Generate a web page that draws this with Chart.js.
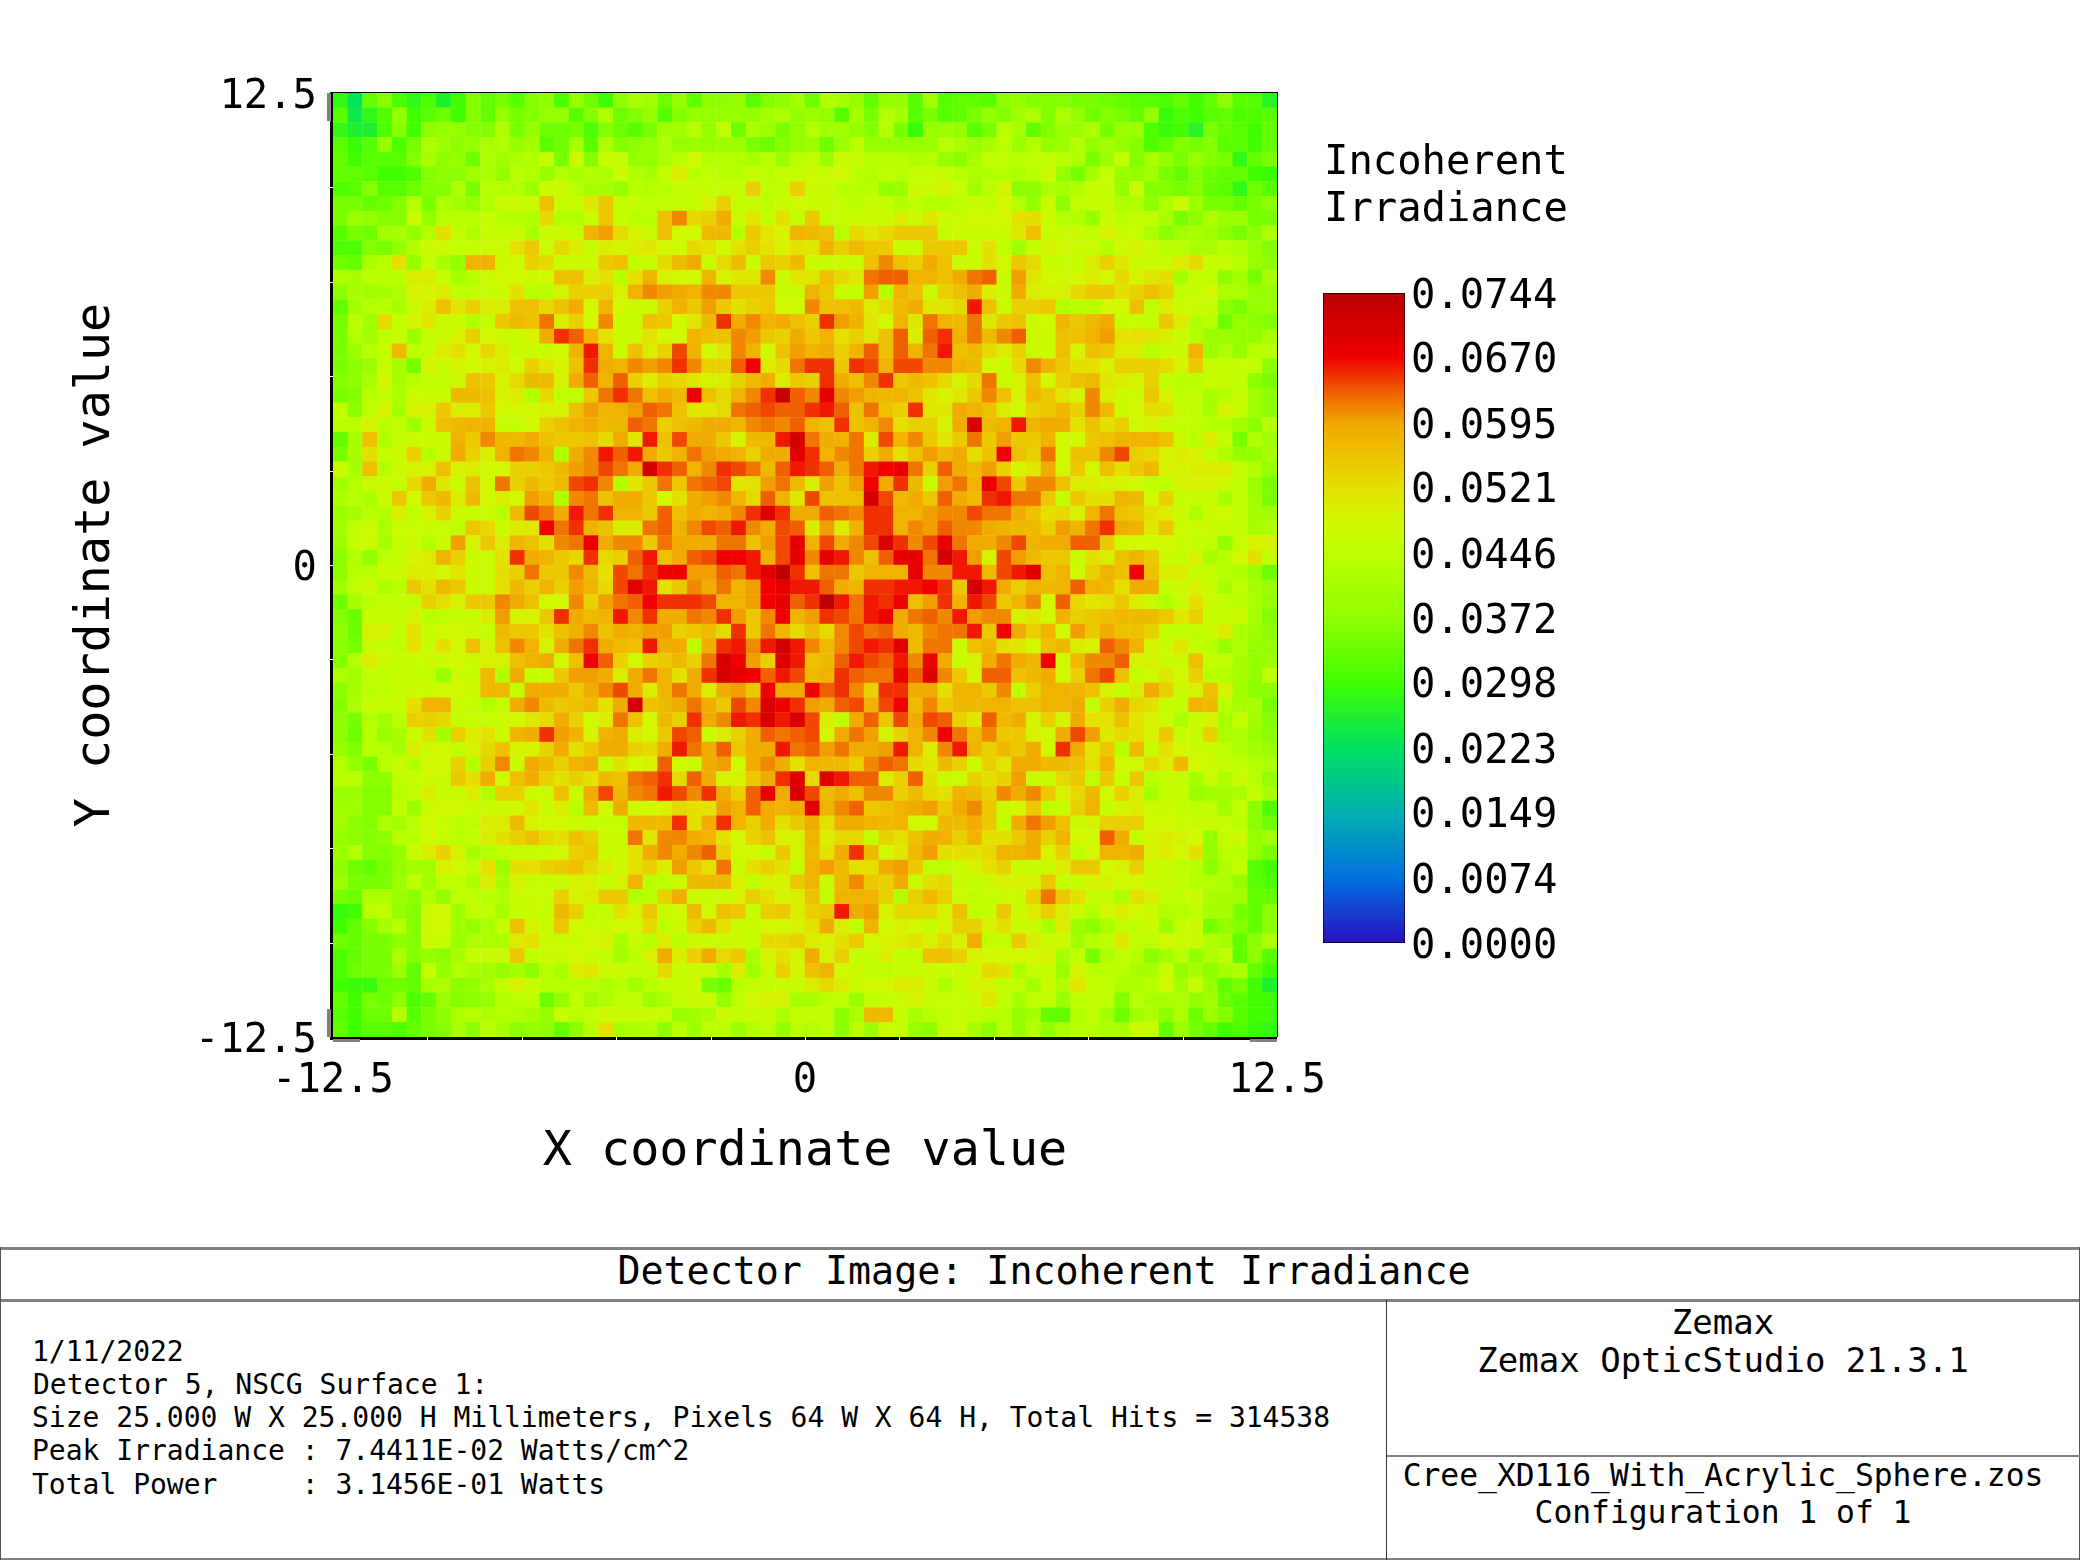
<!DOCTYPE html>
<html><head><meta charset="utf-8">
<script src="https://cdn.jsdelivr.net/npm/chart.js@4"></script>
<style>
html,body{margin:0;padding:0;background:#fff;width:2080px;height:1560px;overflow:hidden}
canvas{position:absolute;display:block}
.t{position:absolute;font-family:"DejaVu Sans Mono",monospace;color:#000;white-space:pre;line-height:1}
.c{transform:translate(-50%,-50%)}
.l{transform:translateY(-50%)}
.ln{position:absolute;background:#808080}
</style></head><body>
<canvas id="map" width="1400" height="1240" style="left:0;top:0"></canvas>
<canvas id="bar" width="400" height="740" style="left:1300px;top:250px"></canvas>
<div class="t l" style="left:1324px;top:160px;font-size:40.5px">Incoherent</div>
<div class="t l" style="left:1324px;top:207px;font-size:40.5px">Irradiance</div>
<div class="ln" style="left:0;top:1247px;width:2080px;height:3px"></div>
<div class="ln" style="left:0;top:1299px;width:2080px;height:3px"></div>
<div class="ln" style="left:0;top:1558px;width:2080px;height:2px"></div>
<div class="ln" style="left:0;top:1247px;width:1px;height:313px;background:#555"></div>
<div class="ln" style="left:2079px;top:1247px;width:1px;height:313px;background:#555"></div>
<div class="ln" style="left:1386px;top:1300px;width:1px;height:260px;background:#333"></div>
<div class="ln" style="left:1387px;top:1455px;width:693px;height:2px"></div>
<div class="t c" style="left:1044px;top:1271px;font-size:38.3px">Detector Image: Incoherent Irradiance</div>
<div class="t l" style="left:32px;top:1352px;font-size:28px">1/11/2022</div>
<div class="t l" style="left:33px;top:1385px;font-size:28px">Detector 5, NSCG Surface 1:</div>
<div class="t l" style="left:32px;top:1418px;font-size:28px">Size 25.000 W X 25.000 H Millimeters, Pixels 64 W X 64 H, Total Hits = 314538</div>
<div class="t l" style="left:32px;top:1451px;font-size:28px">Peak Irradiance : 7.4411E-02 Watts/cm^2</div>
<div class="t l" style="left:32px;top:1485px;font-size:28px">Total Power     : 3.1456E-01 Watts</div>
<div class="t c" style="left:1723px;top:1322px;font-size:34px">Zemax</div>
<div class="t c" style="left:1723px;top:1360px;font-size:34px">Zemax OpticStudio 21.3.1</div>
<div class="t c" style="left:1723px;top:1476px;font-size:31.3px">Cree_XD116_With_Acrylic_Sphere.zos</div>
<div class="t c" style="left:1723px;top:1513px;font-size:31.3px">Configuration 1 of 1</div>
<script>
// Cell irradiance, in units of 0.001 W/cm^2, top row first.
const row00=[28,23,33,36,31,28,31,26,30,36,33,35,32,36,37,31,38,34,30,37,41,40,34,38,33,37,37,38,32,36,37,40, 34,43,41,38,33,38,38,32,40,32,33,33,32,37,38,36,36,36,35,35,34,33,32,32,31,33,30,33,37,32,32,27];
const row01=[32,24,28,31,38,30,32,34,30,36,33,38,35,36,38,38,32,36,42,34,36,38,32,36,38,38,38,38,38,41,42,38, 39,38,32,41,35,43,41,32,35,32,33,35,38,36,40,42,36,42,38,34,36,35,33,38,29,31,30,32,33,31,31,32];
const row02=[28,26,26,31,36,30,37,38,38,36,36,42,35,38,34,34,35,31,36,34,32,35,40,40,44,38,45,34,42,39,35,38, 43,40,40,38,36,44,35,29,38,39,38,32,35,44,41,33,36,39,39,42,35,39,39,31,29,30,27,35,33,32,30,33];
const row03=[32,29,32,38,31,35,42,40,37,38,41,43,38,40,32,34,41,32,42,36,37,38,42,38,39,38,39,39,35,34,36,38, 39,34,39,44,38,38,38,38,39,44,42,39,41,44,39,43,38,39,43,38,40,38,36,31,33,36,35,36,32,32,30,33];
const row04=[33,30,32,32,32,36,41,37,38,34,42,40,42,43,46,35,47,36,46,46,38,38,42,44,48,43,43,43,41,44,39,44, 45,39,47,46,44,44,44,42,43,38,37,41,45,45,44,45,45,44,42,35,39,46,36,41,38,35,38,36,35,28,33,35];
const row05=[33,33,32,30,30,31,36,37,37,40,41,38,44,43,38,43,41,43,42,47,43,41,46,50,44,46,44,44,46,44,46,46, 47,47,48,44,43,45,44,46,46,46,44,42,43,43,42,44,47,38,35,41,46,38,38,40,35,33,36,34,33,33,30,29];
const row06=[31,32,36,32,32,34,36,36,42,35,44,43,43,39,47,47,44,41,41,38,44,43,44,45,46,46,46,46,54,45,45,54, 47,47,44,44,44,38,39,47,47,49,46,40,44,49,37,37,42,41,43,46,46,38,46,36,36,35,36,33,32,28,34,32];
const row07=[35,35,33,34,36,43,35,42,40,38,43,47,47,47,56,46,46,51,55,46,46,45,45,45,46,49,54,46,46,45,47,48, 47,47,46,44,46,46,43,45,43,43,45,47,45,48,43,38,47,37,45,46,47,42,42,37,42,47,39,35,35,33,35,37];
const row08=[35,39,38,36,36,47,38,44,44,44,46,44,43,43,53,43,43,46,55,46,44,44,56,61,53,54,59,47,51,46,52,46, 55,46,46,47,47,47,50,47,51,47,47,48,48,48,52,52,47,43,43,38,47,44,45,45,41,35,37,42,39,39,35,35];
const row09=[32,35,34,40,41,38,43,52,46,42,46,46,47,41,47,47,46,58,60,53,49,47,56,48,48,57,57,43,55,51,49,58, 57,56,44,53,51,53,55,55,55,46,47,47,47,47,51,56,46,47,47,45,49,47,46,42,37,40,41,40,37,35,37,42];
const row10=[31,31,36,35,38,43,47,47,46,46,47,47,52,55,47,53,50,46,50,49,50,51,48,48,53,52,48,52,54,52,49,52, 51,58,54,57,55,55,47,47,55,55,55,47,52,45,40,46,49,48,47,47,43,47,49,47,44,44,41,41,44,42,38,36];
const row11=[34,33,41,44,52,38,47,41,38,58,58,47,48,54,53,47,47,47,55,56,46,46,53,57,59,46,53,57,47,55,54,57, 47,47,47,47,56,61,56,54,59,56,47,47,52,48,55,53,46,46,46,50,54,51,47,47,47,50,53,46,46,44,38,37];
const row12=[42,41,44,44,44,50,50,46,41,44,47,48,48,47,48,56,56,50,52,44,52,58,49,48,48,58,49,51,51,61,47,51, 51,56,53,51,62,63,63,58,58,56,59,62,63,46,60,51,48,48,48,50,48,53,49,51,52,41,46,45,37,41,35,41];
const row13=[37,41,40,41,42,49,49,50,45,45,46,47,52,44,44,49,54,54,54,49,58,61,60,59,58,61,61,55,55,55,47,47, 58,55,47,46,60,44,58,56,47,54,56,59,50,47,59,50,49,49,53,55,55,52,54,56,54,45,46,48,42,42,38,38];
const row14=[33,40,43,44,41,47,50,56,51,54,50,50,56,56,53,56,59,48,58,48,47,47,54,58,55,60,55,52,54,55,48,48, 61,56,56,57,50,53,57,59,51,51,53,66,56,47,54,54,55,43,44,44,48,48,56,45,50,47,47,46,37,35,38,38];
const row15=[35,44,40,53,46,49,51,47,47,43,46,55,57,56,62,50,54,48,61,47,47,56,55,48,51,57,65,59,61,58,59,56, 54,65,60,58,51,48,58,51,62,58,57,62,51,55,56,47,48,58,55,57,59,46,46,46,55,50,43,44,34,38,37,36];
const row16=[35,43,40,45,46,39,46,47,49,54,48,47,47,49,59,65,63,58,52,47,47,52,48,48,58,56,56,61,60,55,54,59, 55,58,52,54,51,56,63,50,63,65,58,62,57,61,63,47,47,56,56,58,60,52,52,51,50,47,43,39,39,38,38,41];
const row17=[35,39,44,46,57,45,46,50,52,48,53,50,47,47,47,48,58,66,58,47,56,50,54,64,58,48,51,61,58,48,56,60, 58,59,54,58,63,56,63,58,62,66,56,57,53,50,54,47,47,56,49,56,55,50,50,44,47,47,58,39,42,38,44,44];
const row18=[35,37,39,46,41,35,49,47,49,48,49,50,48,54,51,49,56,65,59,58,61,60,61,65,61,54,54,63,67,50,53,62, 65,65,55,65,64,58,64,64,61,61,58,57,48,47,53,61,58,55,52,52,49,54,54,54,53,49,55,46,46,46,46,37];
const row19=[36,37,41,49,41,44,45,46,47,56,55,49,53,57,57,49,59,63,58,63,54,50,54,53,51,49,50,54,57,59,50,55, 54,65,59,56,61,65,55,57,56,53,49,53,62,47,49,56,48,54,56,57,51,50,49,54,45,44,44,46,46,45,37,35];
const row20=[35,36,44,45,42,47,47,47,57,57,56,49,50,43,53,45,45,55,62,65,62,56,59,57,67,56,53,58,61,65,72,63, 61,68,61,60,58,57,58,56,51,49,51,55,61,56,49,57,55,51,49,61,50,47,47,55,49,45,45,41,43,46,40,37];
const row21=[45,37,45,49,41,49,49,55,50,50,55,48,48,48,49,49,56,60,58,58,60,63,62,56,51,51,53,62,63,64,63,63, 65,66,63,56,62,56,54,65,51,51,59,58,56,50,48,54,55,57,54,61,57,47,48,52,52,46,45,41,49,46,40,37];
const row22=[44,44,49,44,45,40,47,56,57,58,58,46,46,48,54,56,58,59,57,57,63,62,54,56,57,59,59,57,61,62,61,63, 58,56,65,56,58,61,52,54,54,49,59,70,57,58,66,58,59,59,52,56,52,54,48,49,47,46,45,44,43,40,37,43];
const row23=[33,41,56,43,46,47,47,47,58,55,61,57,57,59,56,55,55,56,53,59,51,66,56,64,59,59,55,49,57,57,66,71, 62,59,58,62,50,64,58,61,55,51,55,62,55,60,55,55,58,48,48,55,56,58,58,58,56,47,44,50,45,35,43,40];
const row24=[35,41,52,46,47,54,43,47,59,54,50,58,62,61,58,43,59,61,66,63,66,59,55,58,62,60,59,58,54,59,59,69, 65,58,61,62,54,59,52,56,60,57,59,52,56,67,56,54,62,48,56,56,61,64,54,53,49,50,49,46,42,38,38,41];
const row25=[47,41,56,43,47,49,49,56,49,50,48,48,54,54,55,57,60,61,64,62,59,71,65,63,58,61,65,64,62,57,63,66, 65,63,59,62,66,67,68,62,54,63,59,57,60,54,49,51,59,48,55,48,56,52,55,57,49,49,50,50,50,46,43,38];
const row26=[40,43,47,47,46,53,59,51,47,56,48,62,54,57,55,57,64,65,61,43,51,55,62,55,62,63,64,51,52,60,62,57, 50,60,56,60,67,59,65,57,47,60,62,58,68,64,55,61,61,56,50,50,49,49,48,45,45,49,49,49,47,45,39,35];
const row27=[42,44,42,47,55,48,55,57,50,57,48,50,48,60,58,43,61,62,56,59,59,55,48,52,59,60,61,58,53,63,58,51, 64,56,56,56,71,64,57,59,55,63,59,57,65,66,62,62,55,46,55,52,52,58,57,48,54,46,46,46,41,45,40,35];
const row28=[39,41,44,43,50,45,49,54,47,47,47,44,57,64,62,59,66,62,65,58,58,55,63,56,59,58,59,61,65,69,65,59, 59,63,62,61,65,65,58,58,60,61,61,64,62,62,59,56,52,53,49,58,62,56,55,52,50,47,42,47,48,45,41,40];
const row29=[40,45,47,41,47,47,47,46,45,55,53,47,50,51,67,62,65,58,56,50,50,62,63,58,61,64,63,66,61,59,64,63, 50,60,50,58,65,65,58,61,60,63,61,61,59,58,57,57,54,60,58,62,65,59,58,51,55,47,47,47,46,45,41,42];
const row30=[39,46,47,41,46,47,43,47,60,49,55,50,58,56,52,61,62,68,59,61,61,55,62,59,59,59,62,62,56,60,64,68, 58,64,59,61,64,70,65,61,64,68,62,59,59,61,64,58,59,59,63,63,55,48,48,48,48,47,46,45,38,46,49,49];
const row31=[37,43,38,45,46,49,50,58,54,47,47,52,65,59,58,55,53,65,53,54,63,66,56,59,63,64,67,67,66,58,64,68, 61,68,66,61,56,63,68,68,62,71,66,60,49,64,60,57,55,55,47,52,50,56,58,55,47,46,49,41,44,48,52,46];
const row32=[37,44,44,47,47,50,50,48,51,47,47,52,54,62,55,55,61,57,52,64,62,65,67,67,60,60,63,62,66,69,73,65, 56,62,62,55,58,58,58,68,61,61,66,66,57,64,66,69,56,58,48,54,58,56,67,56,50,50,46,46,44,42,39,34];
const row33=[40,45,47,42,44,55,52,57,55,47,47,52,57,54,58,54,60,58,53,64,69,66,52,55,61,59,62,58,60,67,68,66, 66,63,59,58,65,65,66,66,67,65,55,71,66,59,54,58,57,58,63,58,57,52,59,59,46,47,49,47,41,45,41,39];
const row34=[34,41,44,45,45,45,54,52,49,55,55,61,59,56,48,48,61,54,60,62,63,67,65,65,65,64,58,58,60,67,68,63, 65,74,66,62,66,65,67,56,60,65,58,66,64,55,58,61,48,63,53,51,52,55,50,47,43,46,52,47,45,44,42,38];
const row35=[36,34,46,46,46,49,44,45,46,46,50,60,49,49,55,65,59,57,58,66,61,65,59,59,62,61,65,60,55,61,67,58, 60,65,64,62,66,67,59,62,63,61,66,60,61,61,49,51,48,58,54,55,56,57,57,57,55,51,54,46,46,47,41,36];
const row36=[37,34,49,49,45,52,46,48,48,47,46,57,55,55,52,56,58,61,56,59,58,60,60,54,55,57,53,65,55,62,58,53, 57,53,61,64,62,63,59,57,61,62,62,66,55,67,59,54,58,48,60,55,59,56,56,54,46,45,45,47,50,41,40,37];
const row37=[37,35,46,46,45,52,46,52,48,56,49,56,61,58,49,59,62,65,59,57,56,66,59,59,45,59,65,66,61,66,71,66, 61,57,61,64,66,65,69,57,62,62,47,56,58,52,51,48,56,57,50,49,63,61,58,49,47,51,46,44,39,42,38,38];
const row38=[36,43,50,47,46,46,47,47,48,47,49,49,56,58,59,48,56,67,63,54,48,54,55,57,54,62,70,67,60,54,69,66, 56,57,63,66,64,63,66,61,67,59,47,49,59,62,59,57,67,48,57,61,61,63,49,49,47,47,56,46,45,41,38,39];
const row39=[42,40,45,45,46,46,45,39,47,47,57,43,59,46,47,55,60,60,59,50,59,62,58,52,59,65,70,68,67,63,66,64, 57,58,65,63,62,62,68,63,69,61,55,49,63,63,56,57,59,48,54,62,64,56,46,48,51,48,54,44,43,41,38,45];
const row40=[37,41,44,45,46,47,47,48,48,47,57,57,46,59,59,59,55,59,61,64,59,50,58,62,59,50,59,60,55,67,59,59, 67,63,65,61,54,65,65,59,59,52,58,58,55,61,45,54,58,58,58,56,49,46,50,59,54,47,49,56,49,40,37,37];
const row41=[36,42,46,46,46,52,58,58,47,47,43,46,59,61,57,55,56,57,52,59,71,56,57,59,62,59,55,64,61,70,67,65, 60,59,63,64,58,64,67,57,61,55,57,57,58,58,56,56,58,58,59,45,54,59,53,52,46,46,58,57,44,41,41,35];
const row42=[37,35,43,40,44,54,54,53,45,46,46,47,48,51,53,59,54,48,50,62,56,48,57,54,65,59,61,66,65,70,66,70, 64,50,45,59,63,55,64,59,64,63,54,51,63,57,59,49,54,49,59,52,52,56,52,49,47,41,46,49,41,46,40,36];
const row43=[37,34,44,39,41,47,52,41,54,50,52,47,58,59,65,60,58,49,58,59,50,48,55,64,63,47,50,54,59,63,62,63, 64,48,59,62,60,49,54,58,61,67,62,57,61,55,55,49,48,59,64,60,51,53,52,49,55,46,47,54,42,42,39,37];
const row44=[38,36,44,44,41,50,47,48,45,49,53,56,49,49,54,59,52,55,59,59,54,53,59,66,62,59,63,55,59,59,66,62, 63,60,62,59,59,60,66,58,50,61,66,58,54,57,55,59,48,65,59,51,55,44,57,47,52,48,47,47,45,42,41,39];
const row45=[43,38,35,44,46,43,48,48,54,43,54,61,47,59,57,54,58,59,46,52,48,49,63,48,47,59,60,48,59,61,59,52, 58,57,57,54,61,63,62,53,51,57,54,47,54,51,59,59,57,57,56,52,58,48,48,53,50,57,48,47,46,45,43,42];
const row46=[44,44,37,37,45,46,47,47,55,52,59,48,56,59,54,52,54,52,57,56,62,63,65,53,63,59,49,49,55,59,65,69, 53,69,66,63,63,50,54,63,52,47,47,54,52,54,60,47,47,53,55,45,55,46,55,44,46,46,41,47,42,47,44,38];
const row47=[39,39,36,36,44,45,50,46,47,50,43,54,54,47,47,56,47,59,64,57,61,62,66,64,61,65,59,54,63,68,59,70, 64,57,59,56,61,61,54,57,53,52,58,57,54,61,59,61,55,49,53,57,48,54,50,41,46,46,39,40,41,42,46,41];
const row48=[40,40,36,36,45,39,47,48,48,47,47,47,48,51,47,50,44,57,48,59,47,48,49,53,52,52,60,58,63,59,58,59, 69,58,61,63,55,56,58,59,60,55,59,61,55,47,48,55,45,46,54,58,46,49,50,47,47,46,45,45,40,46,37,31];
const row49=[40,37,36,42,41,44,48,46,44,45,50,50,57,49,48,48,47,46,46,46,57,57,57,65,52,59,65,58,54,59,52,55, 59,52,59,59,58,57,58,48,48,57,57,59,55,46,59,62,60,56,47,49,54,54,54,48,48,47,47,47,46,44,37,34];
const row50=[38,37,36,37,44,44,48,46,44,46,50,52,54,56,53,52,56,54,47,47,62,51,61,61,59,58,52,48,54,56,49,49, 58,50,53,53,46,54,52,56,59,58,54,58,52,52,55,59,54,58,48,48,63,59,46,49,50,49,48,38,46,47,38,40];
const row51=[39,43,36,36,38,47,50,54,49,41,43,45,46,46,46,48,54,55,47,47,52,59,61,59,61,63,54,48,48,47,55,49, 57,52,59,65,57,48,51,57,60,52,52,52,53,58,58,59,49,54,45,48,58,58,59,49,50,48,52,38,44,44,38,35];
const row52=[37,34,33,35,38,40,40,49,48,45,52,39,52,52,54,55,56,53,50,47,52,54,50,60,55,52,62,47,52,54,52,46, 58,60,57,52,52,59,60,55,45,45,47,49,52,54,47,47,47,50,55,55,48,49,54,47,46,45,44,37,42,46,32,30];
const row53=[39,35,35,35,39,45,40,45,45,42,50,41,49,46,46,46,49,49,46,49,58,44,45,47,57,57,57,49,45,49,49,55, 58,47,57,61,55,54,59,47,52,53,47,46,47,49,49,49,55,46,46,49,49,48,48,47,47,45,43,43,42,38,32,31];
const row54=[35,34,42,42,39,37,43,38,45,45,44,43,47,47,47,54,49,50,55,55,43,44,54,59,47,47,47,49,54,52,49,50, 56,45,58,58,58,54,43,54,57,54,47,45,46,47,47,54,62,55,52,46,46,42,52,50,45,46,47,41,41,40,33,33];
const row55=[29,30,44,45,38,36,47,48,39,45,45,41,46,47,46,57,54,45,46,52,49,55,47,48,57,48,56,55,46,54,55,50, 54,55,66,59,60,49,53,53,53,49,56,45,46,55,47,50,54,50,47,43,48,50,48,47,43,43,45,41,41,35,33,37];
const row56=[30,33,36,41,44,36,47,48,40,38,41,46,56,49,47,55,48,47,47,48,48,53,45,47,54,57,52,47,47,48,48,49, 52,59,50,45,58,48,49,48,46,49,54,54,49,52,47,47,41,50,39,37,42,45,46,47,39,46,47,35,38,36,33,37];
const row57=[34,33,35,35,37,36,47,46,39,42,42,42,50,52,47,47,47,48,49,41,46,44,50,44,47,47,47,47,46,53,53,54, 50,49,52,55,48,49,50,52,49,53,49,59,45,46,55,50,47,47,40,44,45,51,45,45,48,47,47,43,41,33,37,42];
const row58=[31,33,35,35,42,36,38,37,41,46,47,47,55,45,47,47,48,47,45,40,44,49,59,50,54,59,53,55,41,49,52,49, 59,49,54,46,46,50,45,45,56,56,54,49,48,48,48,48,49,41,45,35,42,45,44,37,40,44,38,42,45,33,37,32];
const row59=[31,34,35,35,39,33,46,38,43,41,40,38,41,37,44,41,50,51,47,47,46,46,53,46,47,47,41,50,40,47,54,49, 56,58,48,47,45,45,46,47,47,46,47,47,53,52,42,46,46,39,49,44,44,44,41,41,47,38,41,37,41,42,33,30];
const row60=[30,29,29,34,34,33,41,42,37,38,41,46,49,47,44,44,44,44,42,44,40,44,46,46,47,35,34,44,46,46,47,47, 50,53,50,47,48,48,50,50,47,42,46,49,49,45,45,41,47,43,51,46,45,42,42,44,48,40,46,38,33,35,30,26];
const row61=[33,30,35,34,37,31,33,39,36,37,38,43,44,45,34,38,45,40,42,45,45,39,42,46,47,47,38,45,48,49,49,41, 41,44,45,39,45,46,47,49,46,46,46,47,51,45,41,45,45,39,45,45,45,36,44,41,41,42,38,40,34,32,30,30];
const row62=[32,30,34,34,43,32,35,37,42,43,42,43,43,41,38,46,44,46,47,47,47,47,46,39,40,42,47,46,47,47,42,46, 46,45,37,42,57,57,46,41,44,45,46,45,44,44,38,41,33,33,43,45,40,34,40,42,37,42,34,39,36,32,30,30];
const row63=[33,30,32,32,31,33,35,36,41,37,44,41,37,38,37,33,37,44,52,41,42,43,37,44,39,45,44,39,43,45,38,44, 43,45,37,45,39,47,46,38,37,46,46,41,37,44,38,43,38,42,44,44,42,41,47,46,33,39,35,33,30,31,29,28];
const rows=[row00,row01,row02,row03,row04,row05,row06,row07,row08,row09,row10,row11,row12,row13,row14,row15,row16,row17,row18,row19,row20,row21,row22,row23,row24,row25,row26,row27,row28,row29,row30,row31,row32,row33,row34,row35,row36,row37,row38,row39,row40,row41,row42,row43,row44,row45,row46,row47,row48,row49,row50,row51,row52,row53,row54,row55,row56,row57,row58,row59,row60,row61,row62,row63];

const axisTicks=[-12.5,-10,-7.5,-5,-2.5,0,2.5,5,7.5,10,12.5];
const axisLabels=[-12.5,0,12.5];
const barTicks=[0,0.0074,0.0149,0.0223,0.0298,0.0372,0.0446,0.0521,0.0595,0.0670,0.0744];
const peak=0.0744;
const colorStops=[[0,'#2a10c0'],[7.44,'#0070e0'],[14.9,'#00b0b0'],[22.3,'#00e060'],[29.8,'#40ff00'],[37.2,'#90ff00'],[44.6,'#bcff00'],[48,'#d0f800'],[52.1,'#e4e000'],[55,'#ecc800'],[59.5,'#f0a800'],[63,'#f06000'],[67,'#f00000'],[74.4,'#b80000']];

const hex=h=>[1,3,5].map(i=>parseInt(h.slice(i,i+2),16));
function colorOf(v){
  for(let i=1;i<colorStops.length;i++){
    if(v<=colorStops[i][0]){
      const [a,ca]=colorStops[i-1],[b,cb]=colorStops[i],t=(v-a)/(b-a),p=hex(ca),q=hex(cb);
      return 'rgb('+p.map((c,k)=>Math.round(c+(q[k]-c)*t)).join(',')+')';
    }
  }
  return colorStops[colorStops.length-1][1];
}
const points=[];
rows.forEach((r,ri)=>r.forEach((v,ci)=>points.push({x:-12.5+(ci+0.5)*25/64,y:12.5-(ri+0.5)*25/64,v})));

const FONT='"DejaVu Sans Mono",monospace';
const frame={id:'frame',afterDatasetsDraw(c){
  const {ctx,chartArea:a,scales:{x,y}}=c;
  ctx.save();
  ctx.fillStyle='#000';
  ctx.fillRect(a.left-3,a.top-1,3,a.bottom-a.top+4);
  ctx.fillRect(a.left-3,a.bottom,a.right-a.left+3,3);
  ctx.fillRect(a.left,a.top-1,a.right-a.left+1,1);
  ctx.fillRect(a.right,a.top-1,1,a.bottom-a.top+1);
  ctx.fillStyle='#fff';
  axisTicks.slice(1,-1).forEach(t=>{
    ctx.fillRect(Math.round(x.getPixelForValue(t)),a.bottom,1,3);
    ctx.fillRect(a.left-3,Math.round(y.getPixelForValue(t)),3,1);
  });
  ctx.fillStyle='#808080';
  ctx.fillRect(a.left-6,a.top,4,28);
  ctx.fillRect(a.left-6,a.bottom-28,4,28);
  ctx.fillRect(a.left,a.bottom+2,27,3);
  ctx.fillRect(a.right-27,a.bottom+2,27,3);
  ctx.restore();
}};
const axisCommon={type:'linear',min:-12.5,max:12.5,afterBuildTicks(s){s.ticks=axisTicks.map(value=>({value}))},
  grid:{display:false,drawTicks:false},border:{display:false}};
const tickStyle={autoSkip:false,maxRotation:0,color:'#000',font:{family:FONT,size:40.5},callback:v=>axisLabels.includes(v)?String(v):''};
new Chart(document.getElementById('map'),{
  type:'scatter',
  plugins:[frame],
  data:{datasets:[{data:points,pointStyle:'rect',pointRadius:10.72,pointBorderWidth:0,
    pointBackgroundColor:c=>colorOf(c.raw.v),clip:false}]},
  options:{responsive:false,animation:false,devicePixelRatio:1,
    layout:{padding:{left:0,top:93,right:123,bottom:0}},
    plugins:{legend:{display:false},tooltip:{enabled:false}},
    scales:{
      x:{...axisCommon,afterFit(s){s.height=203},ticks:{...tickStyle,padding:20},
        title:{display:true,text:'X coordinate value',color:'#000',font:{family:FONT,size:48.4},padding:{top:0,bottom:59}}},
      y:{...axisCommon,afterFit(s){s.width=333},ticks:{...tickStyle,padding:16,labelOffset:4},
        title:{display:true,text:'Y coordinate value',color:'#000',font:{family:FONT,size:48.4},padding:{top:67,bottom:0}}}
    }}
});
new Chart(document.getElementById('bar'),{
  type:'bar',
  data:{labels:['Incoherent Irradiance'],datasets:[{data:[[0,peak]],borderColor:'#000',borderWidth:1,borderSkipped:false,
    backgroundColor(c){
      const a=c.chart.chartArea; if(!a)return '#fff';
      const g=c.chart.ctx.createLinearGradient(0,a.bottom,0,a.top);
      colorStops.forEach(([v,col])=>g.addColorStop(v/74.4,col));
      return g;
    }}]},
  options:{responsive:false,animation:false,devicePixelRatio:1,
    layout:{padding:{left:23,top:43,bottom:47,right:0}},
    plugins:{legend:{display:false},tooltip:{enabled:false}},
    datasets:{bar:{barPercentage:1,categoryPercentage:1}},
    scales:{
      x:{display:false},
      y:{type:'linear',position:'right',min:0,max:peak,afterFit(s){s.width=295},
        afterBuildTicks(s){s.ticks=barTicks.map(value=>({value}))},
        grid:{display:false,drawTicks:false},border:{display:false},
        ticks:{autoSkip:false,padding:6,labelOffset:4,color:'#000',font:{family:FONT,size:40.5},callback:v=>v.toFixed(4)}}
    }}
});
</script>
</body></html>
